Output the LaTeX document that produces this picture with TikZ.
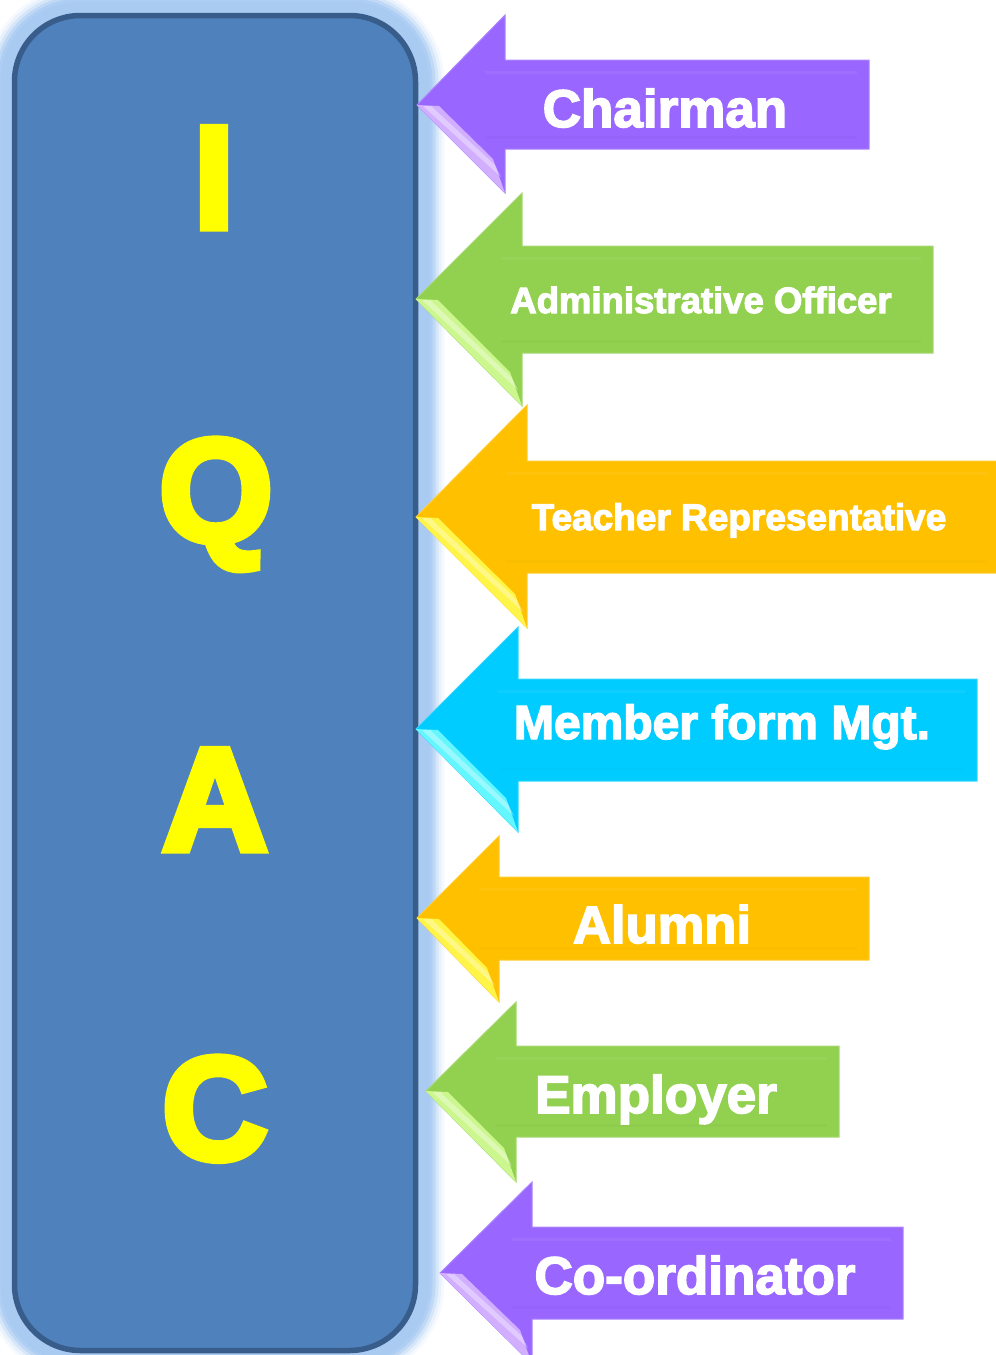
\documentclass[tikz,border=0pt]{standalone}
\usepackage{fontspec}
\newfontfamily\blackfont{Liberation Sans}[FakeBold=3]
\newfontfamily\letterfont{Liberation Sans}[FakeBold=5]
\definecolor{boxfill}{HTML}{4F81BD}
\definecolor{boxline}{HTML}{385D8A}
\definecolor{glow}{HTML}{A9CBF2}
\definecolor{purp}{HTML}{9966FF}
\definecolor{purpL}{HTML}{DDBBFF}
\definecolor{grn}{HTML}{92D050}
\definecolor{grnL}{HTML}{D6FF99}
\definecolor{gold}{HTML}{FFC000}
\definecolor{goldL}{HTML}{FFFF55}
\definecolor{cyn}{HTML}{00CCFF}
\definecolor{cynL}{HTML}{77FFFF}
\definecolor{lettery}{HTML}{FFFF00}
\tikzset{
  mainbox/.style={draw=boxline, fill=boxfill, line width=5.5pt, rounded corners=66pt,
    minimum width=401pt, minimum height=1335pt, inner sep=0pt},
  bigletter/.style={text=lettery, anchor=base, inner sep=0pt,
    font=\letterfont\bfseries\fontsize{146}{146}\selectfont},
  lbl/.style={text=white, anchor=base, inner sep=0pt},
}
\begin{document}
\begin{tikzpicture}[x=1pt,y=-1pt]
\useasboundingbox (0,0) rectangle (996,1355);
% glow
\foreach \w/\o in {58/0.1,52/0.18,46/0.3,40/0.5,34/0.75,28/1}{
  \draw[glow, line width=\w pt, opacity=\o, rounded corners=66pt] (14.5,15.5) rectangle (415.5,1350.5);
}
\node[mainbox] (iqac) at (215,683) {};
\node[bigletter] (lI) at (214,228) {I};
\node[bigletter] (lQ) at (216,541) {Q};
\node[bigletter] (lA) at (215,850) {A};
\node[bigletter] (lC) at (215,1159) {C};
% arrows
\foreach \tx/\ty/\hx/\ht/\hb/\st/\sb/\rx/\c/\lc/\fs/\txx/\tyy/\name [count=\i] in {
 417/105/505/15/193/60/149/869/purp/purpL/53/665/127/{Chairman},
 416/299/522/193/406/246/353/933/grn/grnL/36.5/701/313/{Administrative Officer},
 416/517/527/405/628/461/573/1000/gold/goldL/37/739/530/{Teacher Representative},
 416/729/518/627/832/679/781/977/cyn/cynL/48/722/739/{Member form Mgt.},
 417/918/499/836/1002/877/960/869/gold/goldL/52.5/662/943/{Alumni},
 426/1091/516/1002/1182/1046/1137/839/grn/grnL/53/656/1113/{Employer},
 440/1273/532/1182/1364/1227/1319/903/purp/purpL/53/695/1294/{Co-ordinator}}{
  \filldraw[fill=\c, draw=\c!80!white, line width=1pt, line join=miter]
    (\tx,\ty) -- (\hx,\ht) -- (\hx,\st) -- (\rx,\st) -- (\rx,\sb) -- (\hx,\sb) -- (\hx,\hb) -- cycle;
  % inner bevel of shaft
  \draw[\c!85!white, line width=3pt, opacity=0.35] (\hx-20,\st+12) -- (\rx-12,\st+12);
  \draw[\c!90!black, line width=3pt, opacity=0.15] (\hx-20,\sb-12) -- (\rx-12,\sb-12);
  % highlight strip on lower edge of head
  \fill[\lc, opacity=0.85] (\tx,\ty) -- (\tx+22,\ty+1) -- (\hx-12,\hb-34) -- (\hx,\hb) -- cycle;
  \fill[white, opacity=0.35] (\tx+6,\ty+1) -- (\tx+14,\ty+1) -- (\hx-10,\hb-28) -- (\hx-4,\hb-16) -- cycle;
  \node[lbl, font=\blackfont\bfseries\fontsize{\fs}{\fs}\selectfont] (lbl\i) at (\txx,\tyy) {\name};
}
\end{tikzpicture}
\end{document}
